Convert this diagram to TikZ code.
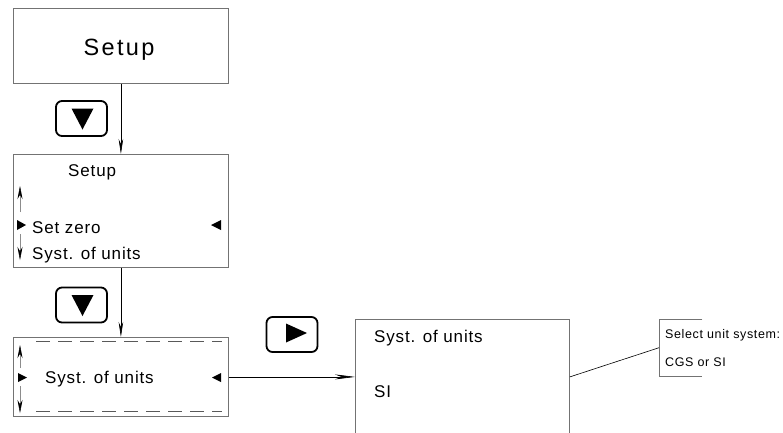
\documentclass[tikz,border=0pt]{standalone}
\usepackage{fontspec}
\setmainfont{Liberation Sans}
\newfontfamily\widefont[LetterSpace=5]{Liberation Sans}
\newfontfamily\widerfont[LetterSpace=10]{Liberation Sans}
\usetikzlibrary{arrows.meta,calc}
\begin{document}
\begin{tikzpicture}[x=1pt,y=-1pt,
  box/.style={draw=black!55,line width=0.8pt,rectangle,inner sep=0,anchor=north west},
  key/.style={draw=black,line width=1.8pt,rounded corners=6pt,minimum width=51pt,minimum height=35pt,inner sep=0},
  txt/.style={inner sep=0,anchor=base west,font=\widefont\fontsize{17}{20}\selectfont},
  smalltxt/.style={inner sep=0,anchor=base west,font=\widefont\fontsize{12.5}{15}\selectfont},
  conn/.style={line width=0.6pt,-{Stealth[length=15pt,width=4.5pt]}},
  plainconn/.style={line width=0.6pt},
  updown/.style={draw=black!45,line width=0.5pt,-{Stealth[length=13pt,width=5pt,black]}},
  tri/.style={fill=black},
  dashline/.style={draw=black!65,line width=0.7pt,dash pattern=on 14pt off 8pt}
]
\clip (0,0) rectangle (783,432);
\fill[white] (0,0) rectangle (783,432);

% boxes
\node[box,minimum width=215pt,minimum height=75pt] (b1) at (13,8) {};
\node[inner sep=0,anchor=base,font=\widerfont\fontsize{23.5}{26}\selectfont] (b1t) at (119,55) {Setup};

\node[box,minimum width=215pt,minimum height=113pt] (b2) at (13,154) {};
\node[txt] (b2t) at (68,176) {Setup};
\node[txt] (b2a) at (32,233) {Set zero};
\node[txt] (b2b) at (32,259) {Syst. of units};

\node[box,minimum width=215pt,minimum height=79pt] (b3) at (13,337) {};
\node[txt] (b3t) at (45,383) {Syst. of units};

\node[box,minimum width=214pt,minimum height=140pt] (b4) at (355,319) {};
\node[txt] (b4a) at (374,342) {Syst. of units};
\node[txt] (b4b) at (374,397) {SI};

\node[inner sep=0,anchor=north west,minimum width=43pt,minimum height=57pt] (b5) at (659,319) {};
\node[smalltxt] (b5a) at (665,338) {Select unit system:};
\node[smalltxt] (b5b) at (665,366) {CGS or SI};
\draw[draw=black!55,line width=0.8pt] (b5.north east) -- (b5.north west) -- (b5.south west) -- (b5.south east);

% keys
\node[key] (k1) at (81.5,118.5) {};
\fill[tri] ($(k1)+(-10,-10)$) -- ++(22,0) -- ++(-11,21) -- cycle;
\node[key] (k2) at (81.5,305) {};
\fill[tri] ($(k2)+(-10,-10)$) -- ++(22,0) -- ++(-11,21) -- cycle;
\node[key] (k3) at (292,334.5) {};
\fill[tri] ($(k3)+(-6,-11)$) -- ++(0,19) -- ++(21,-9.5) -- cycle;

% connectors
\draw[conn] (b1.south) -- (b2.north);
\draw[conn] (b2.south) -- (b3.north);
\draw[conn,-{Stealth[length=20pt,width=5pt]}] (b3.east) -- (b4.west |- b3.east);
\draw[plainconn] (b4.east |- b3.east) -- (b5.west);

% box 2 markers
\draw[updown] (20,212) -- (20,186);
\draw[updown] (20,234) -- (20,260);
\fill[tri] (17,220) -- (26,225) -- (17,230) -- cycle;
\fill[tri] (221,220) -- (211,225) -- (221,230) -- cycle;

% box 3 markers
\draw[dashline] (36,341) -- (222,341);
\draw[dashline] (36,411) -- (222,411);
\draw[updown] (20,368) -- (20,345);
\draw[updown] (20,386) -- (20,413);
\fill[tri] (18,373) -- (27,377.5) -- (18,382) -- cycle;
\fill[tri] (221,373) -- (212,377.5) -- (221,382) -- cycle;
\end{tikzpicture}
\end{document}
